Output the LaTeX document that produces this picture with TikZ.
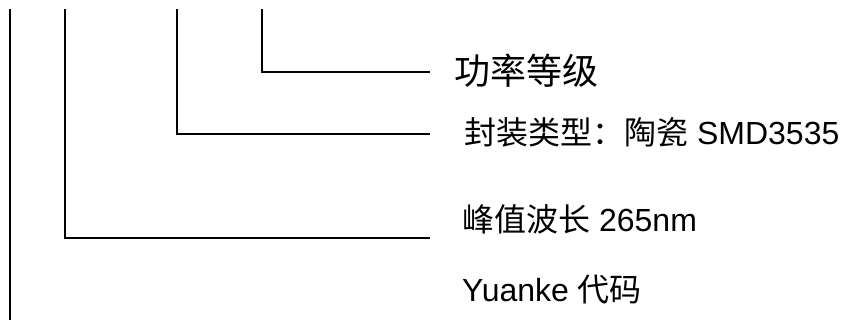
\documentclass[tikz,border=0pt]{standalone}
\usepackage{fontspec}
\setmainfont{Liberation Sans}
\newfontfamily\cjk{Noto Sans CJK SC}
\usetikzlibrary{positioning}

\begin{document}
\begin{tikzpicture}[x=1pt,y=-1pt,
    lead/.style={draw=black,line width=1.9pt},
    lbl/.style={anchor=west,inner sep=0pt,font=\fontsize{32}{38}\selectfont},
    bigl/.style={lbl,font=\fontsize{36}{42}\selectfont}]
    \useasboundingbox (0,0) rectangle (843,320);

    % upper ends of the leads
    \coordinate (top0) at (10,9);
    \coordinate (top1) at (65,9);
    \coordinate (top2) at (177,9);
    \coordinate (top3) at (262,9);
    \coordinate (bot0) at (10,320);
    % right ends of the leads
    \coordinate (end1) at (430,238);
    \coordinate (end2) at (430,134);
    \coordinate (end3) at (430,72);

    \node[bigl] (power) at (454,71) {\cjk 功率等级};
    \node[lbl] (pack) at (464,132) {{\cjk 封装类型：陶瓷} SMD3535};
    \node[lbl] (wave) at (462,219) {{\cjk 峰值波长} 265nm};
    \node[lbl] (code) at (462,290) {Yuanke {\cjk 代码}};

    \draw[lead] (top0) -- (bot0);
    \draw[lead] (top1) |- (end1);
    \draw[lead] (top2) |- (end2);
    \draw[lead] (top3) |- (end3);
\end{tikzpicture}
\end{document}
